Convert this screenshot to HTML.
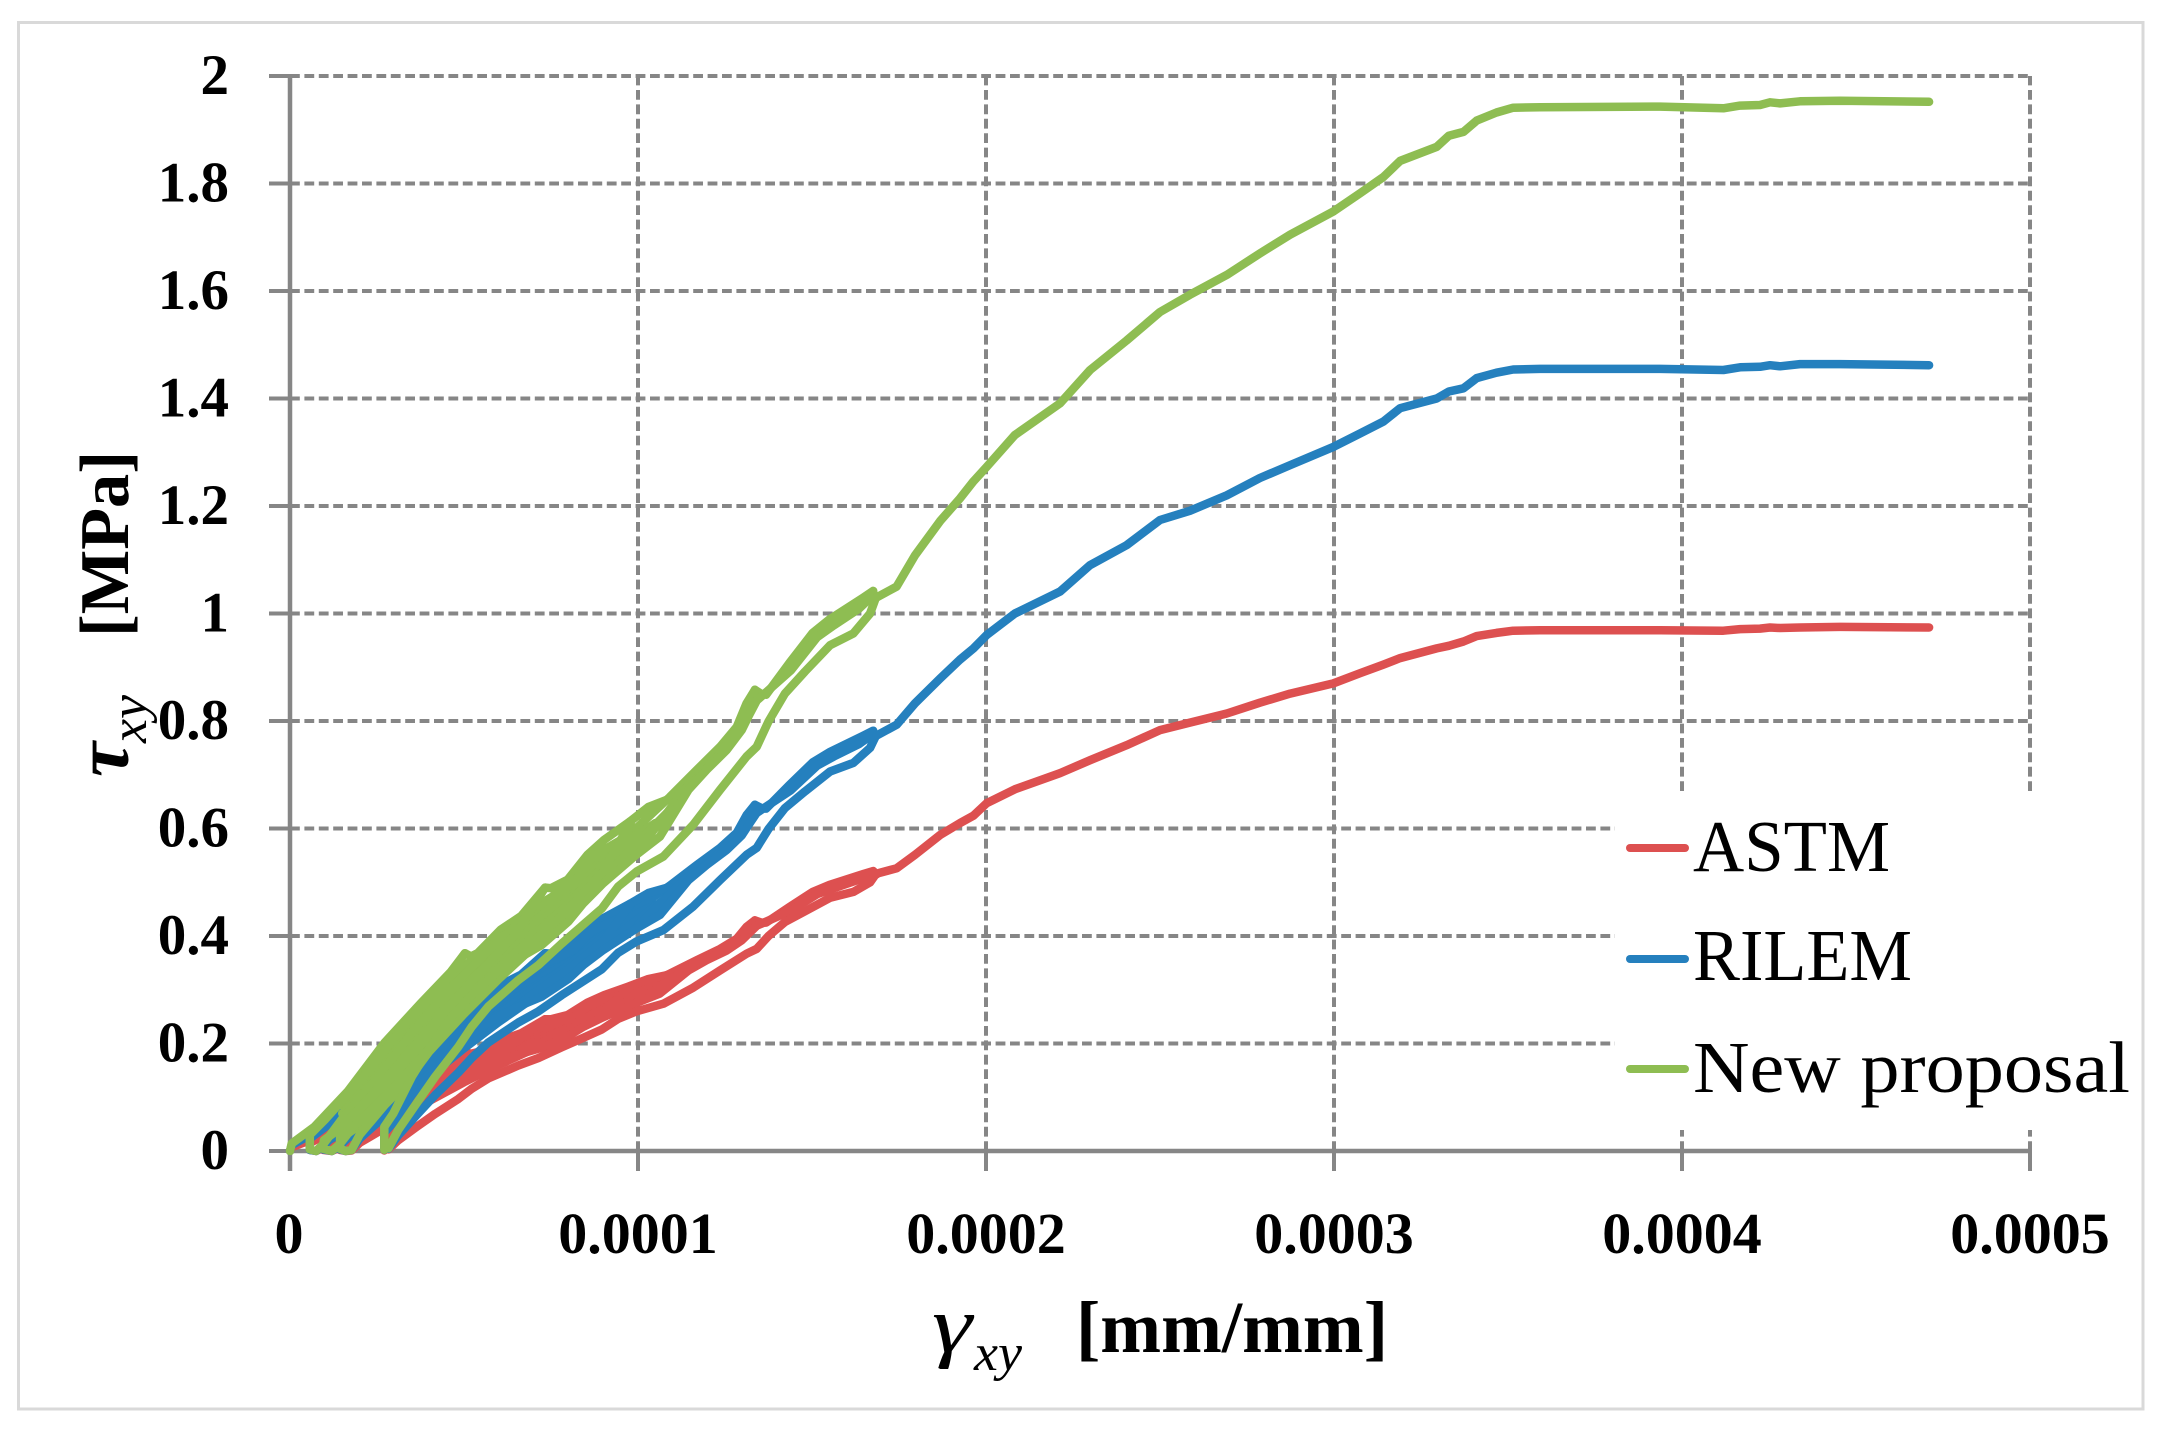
<!DOCTYPE html>
<html lang="en">
<head>
<meta charset="utf-8">
<title>Shear stress versus shear strain</title>
<style>
html,body{margin:0;padding:0;background:#fff}
svg{display:block}
text{font-family:"Liberation Serif",serif;fill:#000}
</style>
</head>
<body>
<svg id="chart" xmlns="http://www.w3.org/2000/svg" width="2164" height="1441" viewBox="0 0 2164 1441">
  <rect x="0" y="0" width="2164" height="1441" fill="#fff"/>
  <rect x="18.5" y="22.5" width="2124.5" height="1386.5" fill="#fff" stroke="#D9D9D9" stroke-width="3"/>
  <g id="grid"></g>
  <rect x="1615" y="793" width="500" height="337" fill="#fff"/>
  <g id="axes"></g>
  <g id="series"></g>
  <g id="ylabels" font-size="57" font-weight="bold" text-anchor="end"></g>
  <g id="xlabels" font-size="58" font-weight="bold" text-anchor="middle"></g>

  <g>
    <text transform="translate(128,777) rotate(-90)" font-size="76" font-style="italic" font-weight="bold" textLength="35" lengthAdjust="spacingAndGlyphs">τ</text>
    <text transform="translate(146,743) rotate(-90)" font-size="52" font-style="italic" textLength="48" lengthAdjust="spacingAndGlyphs">xy</text>
    <text transform="translate(128,637) rotate(-90)" font-size="70" font-weight="bold" textLength="186" lengthAdjust="spacingAndGlyphs">[MPa]</text>
  </g>
  <g>
    <text x="932" y="1352" font-size="80" font-style="italic" textLength="40" lengthAdjust="spacingAndGlyphs">γ</text>
    <text x="974" y="1370" font-size="52" font-style="italic" textLength="48" lengthAdjust="spacingAndGlyphs">xy</text>
    <text x="1076" y="1352" font-size="73" font-weight="bold" textLength="312" lengthAdjust="spacingAndGlyphs">[mm/mm]</text>
  </g>
  <g font-size="73">
    <g>
      <line x1="1630" y1="848" x2="1685" y2="848" stroke="#DD5050" stroke-width="8" stroke-linecap="round"/>
      <text x="1693" y="871" textLength="197" lengthAdjust="spacingAndGlyphs">ASTM</text>
    </g>
    <g>
      <line x1="1630" y1="959" x2="1685" y2="959" stroke="#2580BE" stroke-width="8" stroke-linecap="round"/>
      <text x="1693" y="980" textLength="219" lengthAdjust="spacingAndGlyphs">RILEM</text>
    </g>
    <g>
      <line x1="1630" y1="1069" x2="1685" y2="1069" stroke="#8EBD52" stroke-width="8" stroke-linecap="round"/>
      <text x="1693" y="1092" textLength="437" lengthAdjust="spacingAndGlyphs">New proposal</text>
    </g>
  </g>
</svg>
<script>
// Axis tick values
const xTickValues = [0, 1, 2, 3, 4, 5];
const xTickLabels = ["0", "0.0001", "0.0002", "0.0003", "0.0004", "0.0005"];
const yTickValues = [0, 0.2, 0.4, 0.6, 0.8, 1, 1.2, 1.4, 1.6, 1.8, 2];
const yTickLabels = ["0", "0.2", "0.4", "0.6", "0.8", "1", "1.2", "1.4", "1.6", "1.8", "2"];

// Strain values are in units of 1e-4 mm/mm; stress values are in MPa.
const strainEnvelope = [0,.005,.07,.166,.271,.376,.463,.503,.52,.539,.606,.664,.733,.75,.798,.855,.903,.977,.985,1.006,1.092,1.169,1.236,1.284,1.312,1.336,1.355,1.368,1.435,1.502,1.55,1.646,1.676];
const proposalEnvelope = [0,.014,.045,.111,.201,.275,.334,.368,.362,.368,.412,.437,.49,.489,.505,.551,.579,.613,.595,.607,.659,.709,.752,.789,.833,.858,.85,.849,.908,.964,.989,1.029,1.042];
const rilemEnvelope = [0,.011,.034,.083,.151,.206,.251,.276,.272,.276,.309,.328,.368,.367,.379,.413,.434,.46,.446,.455,.494,.532,.564,.592,.625,.644,.638,.637,.681,.723,.742,.772,.782];
const astmEnvelope = [0,.007,.023,.056,.101,.138,.167,.184,.181,.184,.206,.219,.245,.245,.253,.276,.29,.307,.298,.304,.33,.355,.376,.395,.417,.429,.425,.425,.454,.482,.495,.515,.521];

const strainReload = [.271,.271,.297,.35,.398,.465,.522,.599,.675,.723,.8,.843,.9,.993,1.063,1.145,1.197,1.255,1.298,1.317,1.341,1.439,1.515,1.563,1.635,1.676,1.686];
const proposalReload = [.002,.045,.07,.138,.188,.25,.29,.335,.365,.383,.427,.461,.498,.55,.585,.672,.709,.746,.783,.808,.838,.894,.956,.978,1.009,1.034,1.03];
const rilemReload = [.002,.034,.053,.104,.141,.188,.218,.251,.274,.287,.32,.346,.374,.413,.439,.504,.532,.56,.587,.606,.629,.671,.717,.734,.757,.776,.773];
const astmReload = [.001,.023,.035,.069,.094,.125,.145,.168,.183,.192,.214,.231,.249,.275,.293,.336,.355,.373,.392,.404,.419,.447,.478,.489,.505,.517,.515];

const strainUnload = [1.676,1.681,1.667,1.619,1.552,1.48,1.422,1.375,1.341,1.312,1.236,1.159,1.073,.996,.943,.896,.848,.781,.714,.656,.57,.522,.484,.417,.364,.311,.283];
const proposalUnload = [1.04,1.025,1.0,.963,.941,.892,.851,.799,.752,.734,.672,.607,.548,.52,.492,.451,.424,.386,.346,.318,.269,.231,.194,.138,.089,.039,.005];
const rilemUnload = [.78,.769,.75,.722,.706,.669,.638,.599,.564,.551,.504,.455,.411,.39,.369,.338,.318,.29,.26,.239,.202,.173,.146,.104,.067,.029,.004];
const astmUnload = [.52,.513,.5,.482,.471,.446,.426,.4,.376,.367,.336,.304,.274,.26,.246,.226,.212,.193,.173,.159,.135,.116,.097,.069,.045,.02,.003];

const strainCycle1 = [.503,.44,.33,.2,.1,.057,.057,.075,.095,.15,.25,.35,.45,.55,.65,.738,.815,.853,.877,.968,.977,1.03,1.09];
const proposalCycle1 = [.368,.31,.235,.13,.058,.03,.003,0,.012,.06,.135,.22,.295,.36,.42,.467,.498,.535,.551,.585,.613,.64,.655];
const rilemCycle1 = [.276,.233,.176,.098,.044,.023,.002,0,.009,.045,.101,.165,.221,.27,.315,.35,.374,.401,.413,.439,.46,.48,.491];
const astmCycle1 = [.184,.155,.118,.065,.029,.015,.002,0,.006,.03,.068,.11,.148,.18,.21,.234,.249,.268,.276,.293,.307,.32,.328];

const strainCycle2 = [.733,.65,.55,.45,.35,.25,.15,.097,.095,.12,.142,.2,.3,.4,.5,.6,.7,.8,.9,.977,1.05];
const proposalCycle2 = [.49,.405,.335,.265,.19,.115,.045,.02,.004,0,.012,.06,.13,.21,.28,.34,.4,.46,.53,.58,.61];
const rilemCycle2 = [.368,.304,.251,.199,.143,.086,.034,.015,.003,0,.009,.045,.098,.158,.21,.255,.3,.345,.398,.435,.458];
const astmCycle2 = [.245,.203,.168,.133,.095,.058,.023,.01,.002,0,.006,.03,.065,.105,.14,.17,.2,.23,.265,.29,.305];

const strainCycle3 = [.977,.9,.8,.7,.6,.5,.4,.3,.2,.144,.144,.16,.177,.2,.273,.32,.354,.4,.5,.6,.7,.8,.9,.977,1.1];
const proposalCycle3 = [.61,.52,.45,.39,.325,.26,.19,.12,.055,.025,.004,0,.002,.03,.086,.117,.145,.185,.255,.32,.38,.44,.505,.56,.64];
const rilemCycle3 = [.458,.39,.338,.293,.244,.195,.143,.09,.041,.019,.003,0,.002,.023,.065,.088,.109,.139,.191,.24,.285,.33,.379,.42,.48];
const astmCycle3 = [.305,.26,.225,.195,.163,.13,.095,.06,.028,.013,.002,0,.001,.015,.043,.059,.073,.093,.128,.16,.19,.22,.253,.28,.32];

const strainCycle4 = [1.336,1.317,1.284,1.236,1.187,1.13,1.073,1.0];
const proposalCycle4 = [.858,.825,.785,.74,.705,.67,.62,.56];
const rilemCycle4 = [.644,.619,.589,.555,.529,.503,.465,.42];
const astmCycle4 = [.429,.413,.393,.37,.353,.335,.31,.28];

const strainInner = [.15,.2,.3,.4,.5,.6,.7,.8,.9,.96];
const proposalInner1 = [.085,.117,.202,.274,.344,.393,.446,.485,.545,.58];
const proposalInner2 = [.07,.1,.183,.257,.327,.379,.434,.478,.535,.57];
const proposalInner3 = [.055,.083,.163,.239,.309,.364,.42,.467,.52,.56];
const proposalInner4 = [.04,.065,.142,.22,.29,.35,.406,.458,.515,.555];
const proposalInner5 = [.025,.048,.123,.203,.273,.335,.393,.45,.51,.552];
const rilemInner1 = [.064,.088,.152,.206,.258,.295,.335,.364,.409,.435];
const rilemInner2 = [.053,.075,.137,.193,.245,.284,.326,.359,.401,.428];
const rilemInner3 = [.041,.062,.122,.179,.232,.273,.315,.35,.39,.42];
const rilemInner4 = [.03,.049,.107,.165,.218,.263,.305,.344,.386,.416];
const rilemInner5 = [.019,.036,.092,.152,.205,.251,.295,.338,.383,.414];
const astmInner1 = [.043,.059,.101,.137,.172,.197,.223,.243,.273,.29];
const astmInner2 = [.035,.05,.092,.129,.164,.19,.217,.239,.268,.285];
const astmInner3 = [.028,.042,.082,.12,.155,.182,.21,.234,.26,.28];
const astmInner4 = [.02,.033,.071,.11,.145,.175,.203,.229,.258,.278];
const astmInner5 = [.013,.024,.062,.102,.137,.168,.197,.225,.255,.276];

const strainTail = [1.686,1.743,1.796,1.868,1.925,1.964,2.002,2.083,2.213,2.299,2.404,2.5,2.586,2.692,2.787,2.874,2.998,3.075,3.142,3.19,3.295,3.33,3.372,3.41,3.467,3.515,3.592,3.937,4.119,4.167,4.224,4.253,4.282,4.339,4.454,4.71];
const proposalTail = [1.03,1.05,1.108,1.172,1.214,1.246,1.273,1.332,1.391,1.453,1.508,1.561,1.593,1.63,1.67,1.705,1.748,1.782,1.812,1.842,1.868,1.889,1.896,1.917,1.932,1.941,1.942,1.943,1.94,1.945,1.946,1.951,1.949,1.953,1.954,1.952];
const rilemTail = [.773,.793,.833,.879,.914,.935,.96,1.0,1.041,1.09,1.127,1.174,1.191,1.22,1.252,1.276,1.31,1.335,1.357,1.382,1.4,1.413,1.419,1.438,1.448,1.454,1.455,1.455,1.453,1.458,1.459,1.462,1.46,1.464,1.464,1.462];
const astmTail = [.516,.526,.551,.588,.61,.624,.647,.673,.703,.727,.755,.783,.797,.814,.834,.851,.87,.889,.905,.917,.935,.94,.948,.958,.964,.968,.969,.969,.968,.971,.972,.974,.973,.974,.975,.974];

const SVGNS = "http://www.w3.org/2000/svg";
const plot = { left: 290, bottom: 1151, xUnit: 348, yUnit: 537.5 };
function xScale(v) { return plot.left + v * plot.xUnit; }
function yScale(v) { return plot.bottom - v * plot.yUnit; }
const axisColor = "#868686";

function makeLine(parent, x1, y1, x2, y2, width, dash) {
  const el = document.createElementNS(SVGNS, "line");
  el.setAttribute("x1", x1);
  el.setAttribute("y1", y1);
  el.setAttribute("x2", x2);
  el.setAttribute("y2", y2);
  el.setAttribute("stroke", axisColor);
  el.setAttribute("stroke-width", width);
  if (dash) el.setAttribute("stroke-dasharray", dash);
  parent.appendChild(el);
  return el;
}

const gridGroup = document.getElementById("grid");
const axesGroup = document.getElementById("axes");
const yLabelGroup = document.getElementById("ylabels");
const xLabelGroup = document.getElementById("xlabels");

yTickValues.forEach(function (v, i) {
  const py = yScale(v);
  if (v !== 0) {
    const grid = makeLine(gridGroup, xScale(0), py, xScale(5), py, 4, "9.8 4.6");
    
    
  }
  const tick = makeLine(axesGroup, xScale(0) - 21, py, xScale(0), py, 4);
  
  
  const label = document.createElementNS(SVGNS, "text");
  label.setAttribute("x", 229);
  label.setAttribute("y", py + 18);
  label.textContent = yTickLabels[i];
  
  
  yLabelGroup.appendChild(label);
});

xTickValues.forEach(function (v, i) {
  const px = xScale(v);
  if (v !== 0) {
    const grid = makeLine(gridGroup, px, yScale(0), px, yScale(2), 4, "9.8 4.6");
    
    
  }
  const tick = makeLine(axesGroup, px, yScale(0), px, yScale(0) + 20, 4);
  
  
  const label = document.createElementNS(SVGNS, "text");
  label.setAttribute("x", v === 0 ? px - 1 : px);
  label.setAttribute("y", 1253);
  label.textContent = xTickLabels[i];
  
  
  xLabelGroup.appendChild(label);
});

const xAxisLine = makeLine(axesGroup, xScale(0), yScale(0), xScale(5), yScale(0), 4.5);


const yAxisLine = makeLine(axesGroup, xScale(0), yScale(0) + 20, xScale(0), yScale(2), 4.5);



const astmStrands = [[strainEnvelope, astmEnvelope],[strainInner, astmInner1],[strainInner, astmInner2],[strainInner, astmInner3],[strainInner, astmInner4],[strainInner, astmInner5],[strainCycle1, astmCycle1],[strainCycle2, astmCycle2],[strainCycle3, astmCycle3],[strainCycle4, astmCycle4],[strainReload, astmReload],[strainUnload, astmUnload],[strainTail, astmTail]];
const rilemStrands = [[strainEnvelope, rilemEnvelope],[strainInner, rilemInner1],[strainInner, rilemInner2],[strainInner, rilemInner3],[strainInner, rilemInner4],[strainInner, rilemInner5],[strainCycle1, rilemCycle1],[strainCycle2, rilemCycle2],[strainCycle3, rilemCycle3],[strainCycle4, rilemCycle4],[strainReload, rilemReload],[strainUnload, rilemUnload],[strainTail, rilemTail]];
const proposalStrands = [[strainEnvelope, proposalEnvelope],[strainInner, proposalInner1],[strainInner, proposalInner2],[strainInner, proposalInner3],[strainInner, proposalInner4],[strainInner, proposalInner5],[strainCycle1, proposalCycle1],[strainCycle2, proposalCycle2],[strainCycle3, proposalCycle3],[strainCycle4, proposalCycle4],[strainReload, proposalReload],[strainUnload, proposalUnload],[strainTail, proposalTail]];

function drawSeries(strands, color, name) {
  const group = document.createElementNS(SVGNS, "g");
  
  
  strands.forEach(function (s) {
    const pts = s[0].map(function (g, i) {
      return xScale(g).toFixed(1) + "," + yScale(s[1][i]).toFixed(1);
    }).join(" ");
    const line = document.createElementNS(SVGNS, "polyline");
    line.setAttribute("points", pts);
    line.setAttribute("fill", "none");
    line.setAttribute("stroke", color);
    line.setAttribute("stroke-width", "8.5");
    line.setAttribute("stroke-linejoin", "round");
    line.setAttribute("stroke-linecap", "round");
    
    
    group.appendChild(line);
  });
  document.getElementById("series").appendChild(group);
}
drawSeries(astmStrands, "#DD5050", "series-astm");
drawSeries(rilemStrands, "#2580BE", "series-rilem");
drawSeries(proposalStrands, "#8EBD52", "series-new-proposal");
</script>
</body>
</html>
